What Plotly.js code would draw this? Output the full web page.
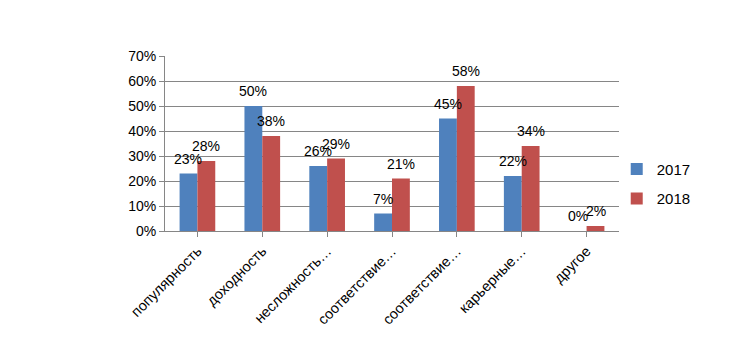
<!DOCTYPE html>
<html><head><meta charset="utf-8">
<script src="https://cdn.plot.ly/plotly-3.0.1.min.js"></script>
<style>html,body{margin:0;padding:0;background:#fff}</style>
</head><body><div id="chart" style="width:751px;height:351px"></div>
<script>
const categories = ["популярность","доходность","несложность…","соответствие…","соответствие…","карьерные…","другое"];
const values2017 = [0.23,0.50,0.26,0.07,0.45,0.22,0.00];
const values2018 = [0.28,0.38,0.29,0.21,0.58,0.34,0.02];
const seriesNames = ["2017","2018"];
const yTicks = [0,0.1,0.2,0.3,0.4,0.5,0.6,0.7];

const idx = categories.map((c,i)=>i);
const font = "Liberation Sans, Arial, sans-serif";
const traces = [
  {type:'bar', name:seriesNames[0], x:idx, y:values2017, marker:{color:'#4F81BD'}, legendgroup:'a', hoverinfo:'none'},
  {type:'bar', name:seriesNames[1], x:idx, y:values2018, marker:{color:'#C0504D'}, legendgroup:'b', hoverinfo:'none'}
];
const annotations = [];
[values2017, values2018].forEach((vals,s)=>{
  vals.forEach((v,i)=>{
    annotations.push({x:i, y:v, xref:'x', yref:'y', text:Math.round(v*100)+'%', showarrow:false,
      xanchor:'center', yanchor:'bottom', xshift:(s===0?-9:9), yshift:5,
      font:{family:font, size:14, color:'#000'}});
  });
});
const layout = {
  width:751, height:351,
  margin:{l:165, r:132, t:56, b:120},
  paper_bgcolor:'#fff', plot_bgcolor:'#fff',
  bargap:0.45, bargroupgap:0,
  barmode:'group',
  font:{family:font, size:13, color:'#000'},
  xaxis:{tickmode:'array', tickvals:idx, ticktext:categories, tickangle:-45,
    range:[-0.5,6.5], showline:true, linecolor:'#868686', linewidth:1,
    ticks:'outside', tickson:'boundaries', ticklen:5, tickcolor:'#868686',
    showgrid:false, zeroline:false, tickfont:{family:font, size:14.5, color:'#000'}},
  yaxis:{range:[0,0.7], tickvals:yTicks, tickformat:'.0%', showline:true, linecolor:'#868686',
    ticks:'outside', ticklen:5, tickcolor:'#868686', gridcolor:'#868686', gridwidth:1,
    zeroline:false, tickfont:{family:font, size:14, color:'#000'}},
  legend:{x:0.995, y:0.27, xanchor:'left', yanchor:'middle', font:{family:font, size:15, color:'#000'},
    tracegroupgap:7, bgcolor:'rgba(0,0,0,0)', itemwidth:30},
  annotations:annotations,
  showlegend:true
};
Plotly.newPlot('chart', traces, layout, {staticPlot:true, displayModeBar:false});
</script></body></html>
